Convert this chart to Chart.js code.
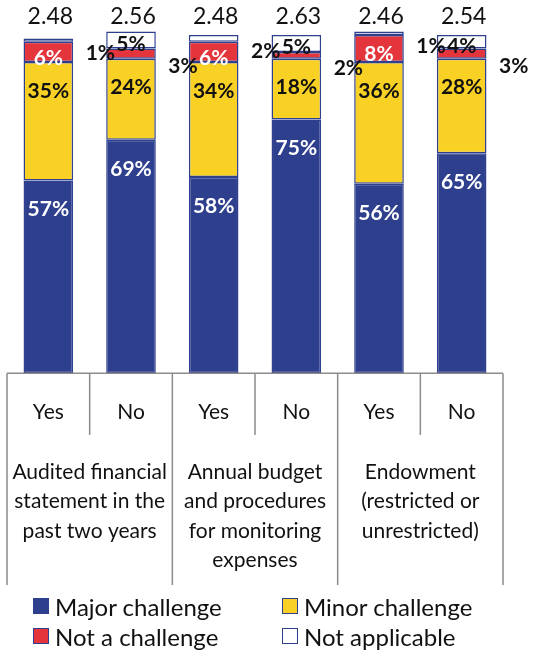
<!DOCTYPE html>
<html>
<head>
<meta charset="utf-8">
<script src="https://cdn.jsdelivr.net/npm/chart.js@4/dist/chart.umd.min.js"></script>
<style>
  body { margin: 0; background: #fff; }
  #wrap { position: relative; width: 547px; height: 653px; }
  .key { position: absolute; display: flex; align-items: center; height: 30px;
         font: 24px Lato, sans-serif; color: #111; white-space: nowrap; }
  .key span { display: inline-block; width: 16px; height: 16px; box-sizing: border-box;
              border: 1.5px solid #2E3F8E; margin-right: 6px; }
</style>
</head>
<body>
<div id="wrap">
  <canvas id="chart" width="547" height="653"></canvas>
</div>
<script>
const answers = ["Yes", "No", "Yes", "No", "Yes", "No"];
const groups = [
  ["Audited financial", "statement in the", "past two years"],
  ["Annual budget", "and procedures", "for monitoring", "expenses"],
  ["Endowment", "(restricted or", "unrestricted)"]
];
const meanScores = [2.48, 2.56, 2.48, 2.63, 2.46, 2.54];

const seriesNames = ["Major challenge", "Minor challenge", "Not a challenge", "Not applicable"];
const major = [57, 69, 58, 75, 56, 65];
const minor = [35, 24, 34, 18, 36, 28];
const notChallenge = [6, 3, 6, 2, 8, 3];
const notApplicable = [1, 5, 2, 5, 1, 4];
const fills = ["#2E3F8E", "#F9D124", "#E4343C", "#FFFFFF"];

const FONT = "Lato, sans-serif";
const INK = "#111";

// percentage labels inside each segment, small ones pushed out to the right
const barLabels = {
  id: "barLabels",
  afterDatasetsDraw(chart) {
    const ctx = chart.ctx;
    ctx.save();
    ctx.textAlign = "center";
    ctx.textBaseline = "middle";
    ctx.font = "bold 21px " + FONT;
    chart.data.datasets.forEach((ds, di) => {
      chart.getDatasetMeta(di).data.forEach((bar, i) => {
        const v = ds.data[i];
        const top = Math.min(bar.y, bar.base);
        const mid = (bar.y + bar.base) / 2;
        let x = bar.x, y, color;
        if (di < 2) {
          y = top + 29;
          color = di === 0 ? "#fff" : INK;
        } else if (di === 2 && v >= 5) {
          y = mid + 6;
          color = "#fff";
        } else if (di === 3 && v >= 4) {
          y = mid + 4;
          color = INK;
        } else {
          x = bar.x + 52;
          y = mid + 13;
          color = INK;
        }
        ctx.fillStyle = color;
        ctx.fillText(v + "%", x, y);
      });
    });
    // mean score above each column
    ctx.font = "23px " + FONT;
    ctx.fillStyle = INK;
    const xs = chart.scales.x;
    meanScores.forEach((m, i) => {
      ctx.fillText(m.toFixed(2), xs.getPixelForValue(i) + 2, chart.chartArea.top - 18);
    });
    ctx.restore();
  }
};

// table grid under the bars
const tableLines = {
  id: "tableLines",
  afterDraw(chart) {
    const ctx = chart.ctx;
    const xs = chart.scales.x;
    const area = chart.chartArea;
    const n = answers.length;
    const step = (xs.getPixelForValue(n - 1) - xs.getPixelForValue(0)) / (n - 1);
    ctx.save();
    ctx.strokeStyle = "#8C8C8C";
    ctx.lineWidth = 1.5;
    ctx.beginPath();
    ctx.moveTo(area.left, area.bottom);
    ctx.lineTo(area.right, area.bottom);
    for (let i = 0; i <= n; i++) {
      const x = xs.getPixelForValue(0) - step / 2 + i * step;
      ctx.moveTo(x, area.bottom);
      ctx.lineTo(x, i % 2 === 0 ? 585 : 435);
    }
    ctx.stroke();
    ctx.restore();
  }
};

// keep wide multi-line labels from shrinking the plot sideways
function noSidePadding(scale) {
  scale.paddingLeft = 0;
  scale.paddingRight = 0;
}

const seriesData = [major, minor, notChallenge, notApplicable];

new Chart(document.getElementById("chart"), {
  type: "bar",
  data: {
    labels: answers,
    datasets: seriesData.map((d, i) => ({
      label: seriesNames[i],
      data: d,
      backgroundColor: fills[i],
      borderColor: "#2E3F8E",
      borderWidth: 1.5,
      borderSkipped: false,
      categoryPercentage: 1,
      barPercentage: 0.6,
      clip: false
    }))
  },
  options: {
    responsive: false,
    animation: false,
    devicePixelRatio: 1,
    layout: { padding: { top: 35, left: 7, right: 44, bottom: 71 } },
    plugins: { legend: { display: false }, tooltip: { enabled: false } },
    scales: {
      x: {
        stacked: true,
        afterFit: noSidePadding,
        grid: { display: false, drawTicks: false },
        border: { display: false },
        ticks: { color: INK, font: { family: FONT, size: 21 }, padding: 26, maxRotation: 0, autoSkip: false }
      },
      x2: {
        type: "category",
        labels: groups,
        position: "bottom",
        offset: true,
        afterFit: noSidePadding,
        grid: { display: false, drawTicks: false },
        border: { display: false },
        ticks: { color: INK, font: { family: FONT, size: 21, lineHeight: 1.4 }, padding: 7, maxRotation: 0, autoSkip: false }
      },
      y: { stacked: true, display: false, min: 0, max: 100 }
    }
  },
  plugins: [barLabels, tableLines]
});

// legend in two columns under the table
const wrap = document.getElementById("wrap");
const keyPos = [[33, 591], [282, 591], [33, 621], [282, 621]];
seriesNames.forEach((name, i) => {
  const item = document.createElement("div");
  item.className = "key";
  item.style.left = keyPos[i][0] + "px";
  item.style.top = keyPos[i][1] + "px";
  const sw = document.createElement("span");
  sw.style.background = fills[i];
  item.appendChild(sw);
  item.appendChild(document.createTextNode(name));
  wrap.appendChild(item);
});
</script>
</body>
</html>
